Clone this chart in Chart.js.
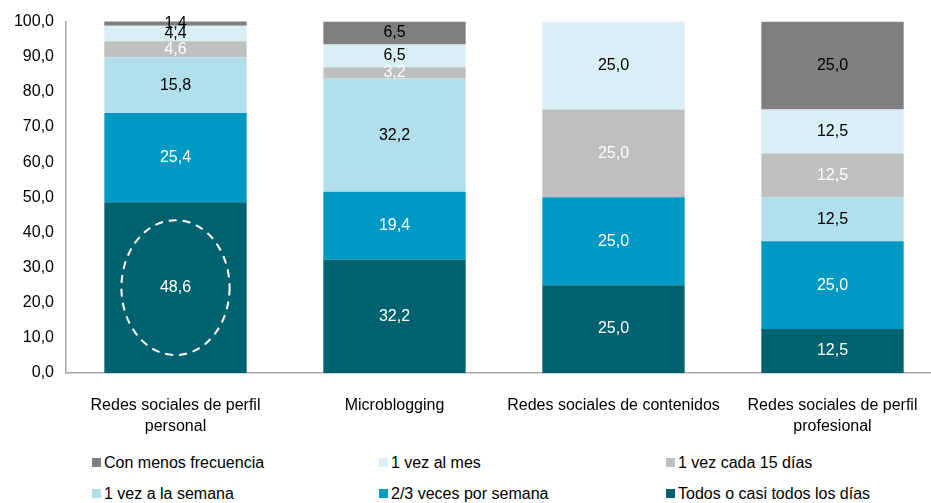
<!DOCTYPE html>
<html>
<head>
<meta charset="utf-8">
<script src="https://cdn.jsdelivr.net/npm/chart.js@4/dist/chart.umd.min.js"></script>
<style>
    body { margin: 0; background: #fff; overflow: hidden; width: 931px; height: 503px; position: relative; }
    #chart { position: absolute; left: 0; top: 0; }
    #legend { position: absolute; left: 92px; top: 451px; display: grid; grid-template-columns: 287px 287px 287px; row-gap: 8px;
              font-family: 'Liberation Sans', Arial, sans-serif; font-size: 16px; color: #000; }
    .item { display: flex; align-items: center; height: 23px; }
    .box { width: 9px; height: 9px; margin-right: 3px; }
</style>
</head>
<body>
<canvas id="chart" width="945" height="440"></canvas>
<div id="legend"></div>
<script>
const FONT = "'Liberation Sans', Arial, sans-serif";

// categories
const categories = [
    ['Redes sociales de perfil', 'personal'],
    'Microblogging',
    'Redes sociales de contenidos',
    ['Redes sociales de perfil', 'profesional']
];

// series (bottom to top)
const todosLosDias   = [48.6, 32.2, 25.0, 12.5];
const dosTresSemana  = [25.4, 19.4, 25.0, 25.0];
const unaSemana      = [15.8, 32.2, 0, 12.5];
const cada15Dias     = [4.6, 3.2, 25.0, 12.5];
const unaMes         = [4.4, 6.5, 25.0, 12.5];
const menosFrecuencia = [1.4, 6.5, 0, 25.0];

const seriesNames = ['Todos o casi todos los días', '2/3 veces por semana', '1 vez a la semana',
                     '1 vez cada 15 días', '1 vez al mes', 'Con menos frecuencia'];
const seriesData = [todosLosDias, dosTresSemana, unaSemana, cada15Dias, unaMes, menosFrecuencia];
const seriesColors = ['#00626F', '#0099C4', '#B1DFEB', '#BFBFBF', '#DAEFF5', '#7F7F7F'];
const labelColors = ['#ffffff', '#ffffff', '#000000', '#ffffff', '#000000', '#000000'];

// legend order as shown
const legendOrder = [5, 4, 3, 2, 1, 0];

const yTicks = { min: 0, max: 100, step: 10 };

function fmt(v) {
    return v.toFixed(1).replace('.', ',');
}

// draws value labels in the middle of each segment
const segmentLabels = {
    id: 'segmentLabels',
    afterDatasetsDraw(chart) {
        const ctx = chart.ctx;
        ctx.save();
        ctx.font = '16px ' + FONT;
        ctx.textAlign = 'center';
        ctx.textBaseline = 'middle';
        chart.data.datasets.forEach((ds, i) => {
            const meta = chart.getDatasetMeta(i);
            meta.data.forEach((bar, j) => {
                const v = ds.data[j];
                if (!v) return;
                ctx.fillStyle = labelColors[i];
                ctx.fillText(fmt(v), bar.x, (bar.y + bar.base) / 2);
            });
        });
        ctx.restore();
    }
};

// dashed ellipse around the first segment of the first bar
const highlight = {
    id: 'highlight',
    afterDatasetsDraw(chart) {
        const bar = chart.getDatasetMeta(0).data[0];
        if (!bar) return;
        const ctx = chart.ctx;
        const cy = (bar.y + bar.base) / 2;
        const h = bar.base - bar.y;
        ctx.save();
        ctx.strokeStyle = '#ffffff';
        ctx.lineWidth = 2;
        ctx.setLineDash([8, 6]);
        ctx.beginPath();
        ctx.ellipse(bar.x, cy, bar.width * 0.38, h * 0.395, 0, 0, Math.PI * 2);
        ctx.stroke();
        ctx.restore();
    }
};

new Chart(document.getElementById('chart'), {
    type: 'bar',
    data: {
        labels: categories,
        datasets: seriesNames.map((name, i) => ({
            label: name,
            data: seriesData[i],
            backgroundColor: seriesColors[i],
            borderWidth: 0,
            categoryPercentage: 1,
            barPercentage: 0.65
        }))
    },
    options: {
        responsive: false,
        animation: false,
        layout: { padding: { top: 12, right: 3, left: 0, bottom: 0 } },
        scales: {
            x: {
                stacked: true,
                grid: { display: false, drawTicks: false },
                border: { color: '#A6A6A6', width: 1.5 },
                ticks: {
                    color: '#000',
                    font: { family: FONT, size: 16, lineHeight: 1.3 },
                    maxRotation: 0,
                    autoSkip: false,
                    padding: 22
                },
                afterFit: s => { s.height = 67; }
            },
            y: {
                stacked: true,
                min: yTicks.min,
                max: yTicks.max,
                grid: { display: false, drawTicks: false },
                border: { color: '#A6A6A6', width: 1.5 },
                ticks: {
                    stepSize: yTicks.step,
                    color: '#000',
                    font: { family: FONT, size: 16 },
                    padding: 12,
                    callback: v => fmt(v)
                },
                afterFit: s => { s.width = 66; }
            }
        },
        plugins: {
            legend: { display: false },
            tooltip: { enabled: false }
        }
    },
    plugins: [segmentLabels, highlight]
});

// html legend built from the series arrays
const legend = document.getElementById('legend');
legendOrder.forEach(i => {
    const item = document.createElement('div');
    item.className = 'item';
    item.innerHTML = `<span class="box" style="background:${seriesColors[i]}"></span>${seriesNames[i]}`;
    legend.appendChild(item);
});
</script>
</body>
</html>
